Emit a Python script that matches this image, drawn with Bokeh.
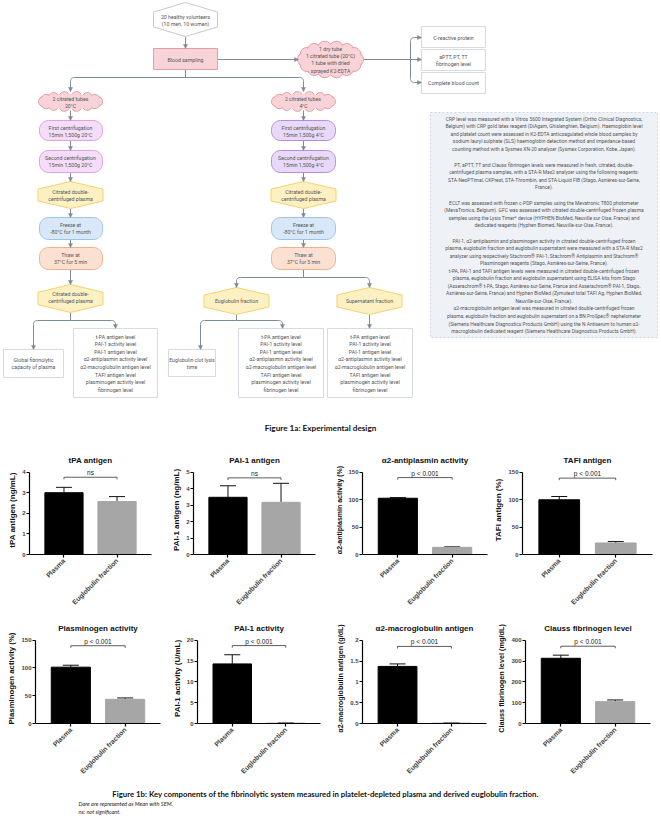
import math
import numpy as np
from bokeh.plotting import figure
from bokeh.models import (Range1d, FactorRange, ColumnDataSource, Whisker, TeeHead, Label,
                          FixedTicker, Arrow, NormalHead)
from bokeh.layouts import column, row
from bokeh.core.properties import value
from bokeh.embed import file_html
from bokeh.resources import INLINE

# ---------------- data for bar charts ----------------
groups = ["Plasma", "Euglobulin fraction"]
titles = ["tPA antigen", "PAI-1 antigen", "\u03b12-antiplasmin activity", "TAFI antigen",
          "Plasminogen activity", "PAI-1 activity", "\u03b12-macroglobulin antigen",
          "Clauss fibrinogen level"]
ylabels = ["tPA antigen (ng/mL)", "PAI-1 antigen (ng/mL)", "\u03b12-antiplasmin activity (%)",
           "TAFI antigen (%)", "Plasminogen activity (%)", "PAI-1 activity (U/mL)",
           "\u03b12-macroglobulin antigen (g/dL)", "Clauss fibrinogen level (mg/dL)"]
plasma_mean = [3.0, 3.47, 102.4, 99.6, 101.4, 14.3, 1.37, 313.0]
plasma_sem = [0.26, 0.70, 1.2, 6.0, 3.5, 2.2, 0.06, 15.0]
eug_mean = [2.57, 3.17, 13.0, 21.0, 43.5, 0.1, 0.01, 105.0]
eug_sem = [0.24, 1.15, 1.0, 2.5, 2.5, 0.05, 0.005, 8.0]
y_max = [4, 5, 150, 150, 150, 20, 2.0, 400]
y_ticks = [[0, 1, 2, 3, 4], [0, 1, 2, 3, 4, 5], [0, 50, 100, 150], [0, 50, 100, 150],
           [0, 50, 100, 150], [0, 5, 10, 15, 20], [0.0, 0.5, 1.0, 1.5, 2.0],
           [0, 100, 200, 300, 400]]
sig_text = ["ns", "ns", "p < 0.001", "p < 0.001", "p < 0.001", "p < 0.001",
            "p < 0.001", "p < 0.001"]
sig_y = [3.75, 4.65, 140, 139, 140, 18.7, 1.85, 371]

# ---------------- flowchart figure ----------------
LC = "#7d8b99"
TXT = "#555555"
fc = figure(width=661, height=440, x_range=Range1d(0, 661), y_range=Range1d(440, 0),
            output_backend="svg", toolbar_location=None, min_border=0,
            x_axis_location=None, y_axis_location=None)
fc.grid.visible = False
fc.outline_line_color = None


def rrect(x0, x1, y0, y1, r):
    xs, ys = [], []
    for cx, cy, a0, a1 in [(x1 - r, y0 + r, -90, 0), (x1 - r, y1 - r, 0, 90),
                           (x0 + r, y1 - r, 90, 180), (x0 + r, y0 + r, 180, 270)]:
        for t in np.linspace(math.radians(a0), math.radians(a1), 8):
            xs.append(cx + r * math.cos(t))
            ys.append(cy + r * math.sin(t))
    return xs, ys


def box(x0, x1, y0, y1, fill, line, r=0, dash="solid"):
    if r > 0:
        xs, ys = rrect(x0, x1, y0, y1, r)
    else:
        xs, ys = [x0, x1, x1, x0], [y0, y0, y1, y1]
    fc.patch(xs, ys, fill_color=fill, line_color=line, line_width=1, line_dash=dash)


def hexagon(cx, y0, y1, w, fill, line):
    h = y1 - y0
    k = h * 0.28
    xs = [cx, cx + w / 2, cx + w / 2, cx, cx - w / 2, cx - w / 2]
    ys = [y0, y0 + k, y1 - k, y1, y1 - k, y0 + k]
    fc.patch(xs, ys, fill_color=fill, line_color=line, line_width=1)


def cloud(cx, cy, w, h, r, n, fill, line):
    a = w / 2 - r
    b = h / 2 - r
    ts = np.linspace(0, 2 * math.pi, n, endpoint=False)
    bx = [cx + a * math.cos(t) for t in ts]
    by = [cy + b * math.sin(t) for t in ts]
    fc.circle(bx, by, radius=r, fill_color=fill, line_color=line, line_width=1)
    fc.circle(bx, by, radius=r - 0.9, fill_color=fill, line_color=None)
    fc.ellipse([cx], [cy], width=2 * a + r, height=2 * b + r * 0.9, fill_color=fill,
               line_color=None)


arrow_src = dict(xs=[], ys=[], xe=[], ye=[])
paths_x, paths_y = [], []


def connector(pts, arrow=True, r=4):
    xs, ys = [pts[0][0]], [pts[0][1]]
    for i in range(1, len(pts) - 1):
        p0 = np.array(pts[i - 1], float)
        v = np.array(pts[i], float)
        p1 = np.array(pts[i + 1], float)
        d0 = (p0 - v) / np.linalg.norm(p0 - v)
        d1 = (p1 - v) / np.linalg.norm(p1 - v)
        a = v + d0 * r
        b = v + d1 * r
        for t in np.linspace(0, 1, 7):
            q = (1 - t) ** 2 * a + 2 * (1 - t) * t * v + t ** 2 * b
            xs.append(q[0])
            ys.append(q[1])
    xs.append(pts[-1][0])
    ys.append(pts[-1][1])
    paths_x.append(xs)
    paths_y.append(ys)
    if arrow:
        e = np.array(pts[-1], float)
        s = np.array(pts[-2], float)
        d = (e - s) / np.linalg.norm(e - s)
        st = e - d * 2
        arrow_src["xs"].append(st[0]); arrow_src["ys"].append(st[1])
        arrow_src["xe"].append(e[0]); arrow_src["ye"].append(e[1])


PINK, PINK_L = "#f8d3d7", "#e59ca6"
PURP1, PURP1_L = "#f5dcf7", "#dba3e4"
PURP2, PURP2_L = "#e8d9f8", "#b98ae1"
YEL, YEL_L = "#fdf1c4", "#f2d36c"
BLUE, BLUE_L = "#d9e8f8", "#9dc3ec"
ORA, ORA_L = "#fce1d2", "#efb08c"
GREY_L = "#d5dbe1"

# connectors
connector([(185, 36), (185, 48)])
connector([(217, 59), (298, 59)])
connector([(185, 69), (185, 77)], arrow=False)
connector([(185, 77), (70, 77), (70, 91)])
connector([(185, 77), (303, 77), (303, 91)])
connector([(363, 59), (410, 59)], arrow=False)
connector([(410, 59), (410, 37), (421, 37)])
connector([(410, 59), (410, 82), (421, 82)])
connector([(410, 59), (421, 59)])
for cx in (70, 303):
    for a, b in [(110, 120), (140, 150), (172, 181), (208, 217), (239, 247)]:
        connector([(cx, a), (cx, b)])
connector([(70, 269), (70, 284)])
connector([(70, 312), (70, 320)], arrow=False)
connector([(70, 320), (33, 320), (33, 349)])
connector([(70, 320), (115, 320), (115, 328)])
connector([(303, 269), (303, 277)], arrow=False)
connector([(303, 277), (236, 277), (236, 287)])
connector([(303, 277), (369, 277), (369, 287)])
connector([(236, 314), (236, 320)], arrow=False)
connector([(236, 320), (200, 320), (200, 349)])
connector([(236, 320), (282, 320), (282, 328)])
connector([(369, 314), (369, 328)])
fc.multi_line(paths_x, paths_y, line_color=LC, line_width=1)

# shapes
hexagon(185, 2, 36, 64, "white", "#c9c9c9")
box(153, 217, 48, 69, PINK, PINK_L)
cloud(330, 59, 66, 37, 7, 14, PINK, PINK_L)
cloud(70, 101, 64, 20, 5, 14, PINK, PINK_L)
cloud(303, 101, 64, 20, 5, 14, PINK, PINK_L)
box(39, 102, 120, 140, PURP1, PURP1_L, r=9)
box(39, 102, 150, 172, PURP1, PURP1_L, r=9)
box(271, 335, 120, 140, PURP2, PURP2_L, r=9)
box(271, 335, 150, 172, PURP2, PURP2_L, r=9)
hexagon(70, 181, 208, 65, YEL, YEL_L)
hexagon(303, 181, 208, 65, YEL, YEL_L)
box(39, 102, 217, 239, BLUE, BLUE_L, r=9)
box(271, 335, 217, 239, BLUE, BLUE_L, r=9)
box(39, 102, 247, 269, ORA, ORA_L, r=9)
box(271, 335, 247, 269, ORA, ORA_L, r=9)
hexagon(70, 284, 312, 65, YEL, YEL_L)
hexagon(236, 287, 314, 65, YEL, YEL_L)
hexagon(369, 287, 314, 65, YEL, YEL_L)
box(421, 485, 26, 47, "white", GREY_L)
box(421, 485, 49, 70, "white", GREY_L)
box(421, 485, 72, 93, "white", GREY_L)
box(3, 63, 349, 377, "white", GREY_L)
box(168, 215, 349, 376, "white", GREY_L)
box(73, 157, 328, 397, "white", GREY_L)
box(238, 323, 328, 397, "white", GREY_L)
box(327, 412, 328, 397, "white", GREY_L)
box(430, 657, 112, 337, "#eef2f7", "#cfd7e0", dash="2 2")

fc.add_layout(Arrow(end=NormalHead(size=4, fill_color=LC, line_color=LC, line_width=0.5),
                    x_start="xs", y_start="ys", x_end="xe", y_end="ye", line_color=LC,
                    line_width=1, source=ColumnDataSource(arrow_src)))

# flowchart labels
flow_text = [
    (185, 16, "20 healthy volunteers"), (185, 23.5, "(10 men, 10 women)"),
    (185, 59, "Blood sampling"),
    (330, 48, "1 dry tube"), (330, 55, "1 citrated tube (20\u00b0C)"),
    (330, 62.5, "1 tube with dried"), (330, 70, "sprayed K2-EDTA"),
    (453, 37, "C-reactive protein"), (453, 56, "aPTT, PT, TT"), (453, 63.5, "fibrinogen level"),
    (453, 82, "Complete blood count"),
    (70, 98, "2 citrated tubes"), (70, 105.5, "20\u00b0C"),
    (303, 98, "2  citrated tubes"), (303, 105.5, "4\u00b0C"),
    (70, 127, "First centrifugation"), (70, 134.5, "15min 1,500g 20\u00b0C"),
    (70, 157, "Second centrifugation"), (70, 164.5, "15min 1,500g 20\u00b0C"),
    (303, 127, "First centrifugation"), (303, 134.5, "15min 1,500g 4\u00b0C"),
    (303, 157, "Second centrifugation"), (303, 164.5, "15min 1,500g 4\u00b0C"),
    (70, 191, "Citrated double-"), (70, 198.5, "centrifuged plasma"),
    (303, 191, "Citrated double-"), (303, 198.5, "centrifuged plasma"),
    (70, 224, "Freeze at"), (70, 231.5, "-80\u00b0C for 1 month"),
    (303, 224, "Freeze at"), (303, 231.5, "-80\u00b0C for 1 month"),
    (70, 254, "Thaw at"), (70, 261.5, "37\u00b0C for 5 min"),
    (303, 254, "Thaw at"), (303, 261.5, "37\u00b0C for 5 min"),
    (70, 293, "Citrated double-"), (70, 300.5, "centrifuged plasma"),
    (236, 300.5, "Euglobulin fraction"), (369, 300.5, "Supernatant fraction"),
    (33, 359, "Global fibrinolytic"), (33, 366.5, "capacity of plasma"),
    (191.5, 359, "Euglobulin clot lysis"), (191.5, 366.5, "time"),
]
list_items = ["t-PA antigen level", "PAI-1 activity level", "PAI-1 antigen level",
              "\u03b12-antiplasmin activity level", "\u03b12-macroglobulin antigen level",
              "TAFI antigen level", "plasminogen activity level", "fibrinogen level"]
for cx in (115, 280.5, 369.5):
    for i, t in enumerate(list_items):
        flow_text.append((cx, 336 + i * 7.65, t))
fc.text(x=[t[0] for t in flow_text], y=[t[1] for t in flow_text],
        text=[t[2] for t in flow_text], text_font=value("Roboto"), text_font_size="5.2px",
        text_color=TXT, text_align="center", text_baseline="middle")

paragraphs = [
    (118, ["CRP level was measured with a Vitros 5600 Integrated System (Ortho Clinical Diagnostics,",
           "Belgium) with CRP gold latex reagent (DiAgam, Ghislenghien, Belgium). Haemoglobin level",
           "and platelet count were assessed in K2-EDTA anticoagulated whole blood samples by",
           "sodium lauryl sulphate (SLS) haemoglobin detection method and impedance-based",
           "counting method with a Sysmex XN-20 analyzer (Sysmex Corporation, Kobe, Japan)."]),
    (164, ["PT, aPTT, TT and Clauss fibrinogen levels were measured in fresh, citrated, double-",
           "centrifuged plasma samples, with a STA-R Max2 analyzer using the following reagents:",
           "STA-NeoPTimal, CKPrest, STA-Thrombin, and STA-Liquid FIB (Stago, Asni\u00e8res-sur-Seine,",
           "France)."]),
    (202, ["ECLT was assessed with frozen c-PDP samples using the Mevatronic T800 photometer",
           "(MevaTronics, Belgium). GFC was assessed with citrated double-centrifuged frozen plasma",
           "samples using the Lysis Timer* device (HYPHEN BioMed, Neuville sur Oise, France) and",
           "dedicated reagents (Hyphen Biomed, Neuville-sur-Oise, France)."]),
    (240, ["PAI-1, \u03b12-antiplasmin and plasminogen activity in citrated double-centrifuged frozen",
           "plasma, euglobulin fraction and euglobulin supernatant were measured with a STA-R Max2",
           "analyzer using respectively Stachrom\u00ae PAI-1, Stachrom\u00ae Antiplasmin and Stachrom\u00ae",
           "Plasminogen reagents (Stago, Asni\u00e8res-sur-Seine, France).",
           "t-PA, PAI-1 and TAFI antigen levels were measured in citrated double-centrifuged frozen",
           "plasma, euglobulin fraction and euglobulin supernatant using ELISA kits from Stago",
           "(Asserachrom\u00ae t-PA, Stago, Asni\u00e8res-sur-Seine, France and Asserachrom\u00ae PAI-1, Stago,",
           "Asni\u00e8res-sur-Seine, France) and Hyphen BioMed (Zymutest total TAFI Ag, Hyphen BioMed,",
           "Neuville-sur-Oise, France).",
           "\u03b12-macroglobulin antigen level was measured in citrated double-centrifuged frozen",
           "plasma, euglobulin fraction and euglobulin supernatant on a BN ProSpec\u00ae nephelometer",
           "(Siemens Healthcare Diagnostics Products GmbH) using the N Antiserum to human \u03b12-",
           "macroglobulin dedicated reagent (Siemens Healthcare Diagnostics Products GmbH)."]),
]
px, py, pt = [], [], []
for y0, lines in paragraphs:
    for i, t in enumerate(lines):
        px.append(543.5); py.append(y0 + i * 7.55); pt.append(t)
fc.text(x=px, y=py, text=pt, text_font=value("Roboto"), text_font_size="4.95px",
        text_color=TXT, text_align="center", text_baseline="middle")

fc.text(x=[320], y=[427], text=["Figure 1a: Experimental design"], text_font=value("Lato"),
        text_font_size="8.2px", text_font_style="bold", text_color="#111111",
        text_align="center", text_baseline="middle")

# ---------------- bar charts ----------------
# (figure width, left border, right border)
layouts = [(169, 29, 18), (161, 21, 15), (161, 32, 4), (170, 30, 9),
           (169, 35, 9), (161, 27, 10), (161, 32, 5), (170, 34, 11)]
ylab_sizes = ["8px", "8px", "7px", "8px", "7.8px", "8px", "7.1px", "7.3px"]
FONT = "Liberation Sans"


def bar_chart(i):
    w, bl, br = layouts[i]
    if i < 4:
        h, bt, bb = 172, 25, 58
    else:
        h, bt, bb = 168, 21, 57
    ym = y_max[i]
    p = figure(width=w, height=h, x_range=FactorRange(*groups, range_padding=0.15,
                                                      range_padding_units="absolute"),
               y_range=Range1d(0, ym * 1.08), output_backend="svg", toolbar_location=None,
               min_border_left=bl, min_border_right=br, min_border_top=bt,
               min_border_bottom=bb, title=titles[i])
    p.title.align = "center"
    p.title.text_font = FONT
    p.title.text_font_size = "8px"
    p.title.text_font_style = "bold"
    p.title.text_color = "#111111"
    p.title.standoff = 1
    p.grid.visible = False
    p.outline_line_color = None
    src = ColumnDataSource(dict(x=groups, mean=[plasma_mean[i], eug_mean[i]],
                                upper=[plasma_mean[i] + plasma_sem[i], eug_mean[i] + eug_sem[i]],
                                color=["#000000", "#a6a6a6"]))
    p.vbar(x="x", top="mean", width=0.72, fill_color="color", line_color="color", source=src)
    p.add_layout(Whisker(source=src, base="x", upper="upper", lower="mean", dimension="height",
                         line_color="#111111", line_width=1,
                         upper_head=TeeHead(size=16, line_color="#111111", line_width=1),
                         lower_head=None))
    b = sig_y[i]
    d = ym * 0.025
    p.line(x=[groups[0], groups[0], groups[1], groups[1]], y=[b - d, b, b, b - d],
           line_color="#333333", line_width=0.8)
    p.add_layout(Label(x=1.0, y=b, text=sig_text[i], text_align="center",
                       text_baseline="bottom", y_offset=1, text_font=FONT,
                       text_font_size="6.5px", text_color="#222222"))
    ya = p.yaxis[0]
    ya.ticker = FixedTicker(ticks=y_ticks[i])
    ya.bounds = (0, ym)
    ya.axis_label = ylabels[i]
    ya.axis_label_text_font = FONT
    ya.axis_label_text_font_size = ylab_sizes[i]
    ya.axis_label_text_font_style = "bold"
    ya.axis_label_text_color = "#111111"
    ya.axis_label_standoff = 2
    ya.major_label_text_font = FONT
    ya.major_label_text_font_size = "6px"
    ya.major_label_text_font_style = "bold"
    ya.major_label_standoff = 1
    ya.minor_tick_line_color = None
    ya.major_tick_in = 0
    ya.major_tick_out = 3
    ya.axis_line_width = 1.2
    ya.major_tick_line_width = 1.2
    xa = p.xaxis[0]
    xa.major_label_orientation = math.pi / 4
    xa.major_label_text_font = FONT
    xa.major_label_text_font_size = "6.8px"
    xa.major_label_text_font_style = "bold"
    xa.major_label_standoff = 2
    xa.major_tick_in = 0
    xa.major_tick_out = 3
    xa.axis_line_width = 1.2
    xa.major_tick_line_width = 1.2
    return p


row1 = row(*[bar_chart(i) for i in range(4)])
row2 = row(*[bar_chart(i) for i in range(4, 8)])

# ---------------- caption ----------------
cap = figure(width=661, height=40, x_range=Range1d(0, 661), y_range=Range1d(820, 780),
             output_backend="svg", toolbar_location=None, min_border=0,
             x_axis_location=None, y_axis_location=None)
cap.grid.visible = False
cap.outline_line_color = None
cap.text(x=[325], y=[793], text=["Figure 1b: Key components of the fibrinolytic system measured in "
                                 "platelet-depleted plasma and derived euglobulin fraction."],
         text_font=value("Lato"), text_font_size="7.8px", text_font_style="bold",
         text_color="#111111", text_align="center", text_baseline="middle")
cap.text(x=[78, 78], y=[803, 811], text=["Dare are represented as Mean with SEM.",
                                        "ns: not significant."],
         text_font=value("Lato"), text_font_size="5.6px", text_font_style="italic",
         text_color="#222222", text_align="left", text_baseline="middle")

layout = column(fc, row1, row2, cap)
open("out.html", "w").write(file_html(layout, INLINE))
